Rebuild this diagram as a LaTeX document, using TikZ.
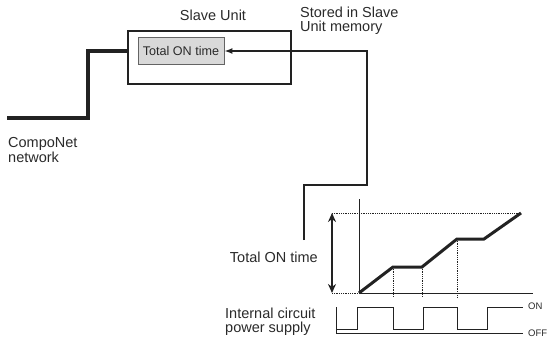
\documentclass[tikz,border=0pt]{standalone}
\usepackage{fontspec}
\setmainfont{Liberation Sans}
\usetikzlibrary{arrows.meta}
\definecolor{ink}{HTML}{222222}
\definecolor{txt}{HTML}{2A2A2A}
\definecolor{boxgray}{HTML}{D9D9D9}
\tikzset{
  lbl/.style={inner sep=0pt, text=txt, font=\fontsize{14.5}{14.5}\selectfont, align=left},
  small/.style={inner sep=0pt, text=txt, font=\fontsize{9.5}{9.5}\selectfont},
  unitbox/.style={draw=ink, line width=2pt, minimum width=163pt, minimum height=53pt, inner sep=0pt},
  membox/.style={draw=ink!70, line width=0.8pt, fill=boxgray, minimum width=86pt, minimum height=27pt, inner sep=0pt, text=txt, font=\fontsize{12.6}{12.6}\selectfont},
  netline/.style={draw=ink, line width=3.5pt},
  feedline/.style={draw=ink, line width=2pt},
  axisline/.style={draw=ink, line width=0.8pt},
  dotline/.style={draw=ink, line width=0.8pt, dash pattern=on 1pt off 0.8pt},
  curveline/.style={draw=ink, line width=3pt, line join=miter},
  pulseline/.style={draw=ink, line width=1pt},
}
\begin{document}
\begin{tikzpicture}[x=1pt,y=-1pt]
\useasboundingbox (0,0) rectangle (551,339);
% Slave unit
\node[unitbox] (su) at (209.5,57.5) {};
\node[membox] (tot) at (181,51) {Total ON time};
\node[lbl, anchor=base] (sulbl) at (213,21) {Slave Unit};
\node[lbl, anchor=north west] (store) at (300,6.5) {Stored in Slave\\Unit memory};
% network
\coordinate (n0) at (7,118);
\draw[netline] (n0) -- (88,118) -- (88,51) -- (su.west |- tot.east);
\node[lbl, anchor=north west] (net) at (8,137.5) {CompoNet\\network};
% feed arrow
\coordinate (feed) at (304,240);
\draw[feedline, -{Latex[length=8pt,width=6pt]}] (feed) -- (304,185) -| (367,51) -- (tot.east);
% chart
\draw[axisline] (359,199) -- (359,293) -- (533,293);
\draw[dotline] (332,213) -- (521,213);
\draw[dotline] (332,293) -- (359,293);
\draw[dotline] (393,267) -- (393,297);
\draw[dotline] (422,267) -- (422,297);
\draw[dotline] (457,239) -- (457,297);
\draw[curveline] (359,293) -- (393,267) -- (422,267) -- (457,239) -- (484,239) -- (521,213);
\coordinate (at) at (332,213);
\coordinate (ab) at (332,293);
\draw[draw=ink, line width=2.2pt, {Stealth[length=9pt,width=8pt]}-{Stealth[length=9pt,width=8pt]}] (at) -- (ab);
\node[lbl, anchor=base east] (totlbl) at (318,262) {Total ON time};
% pulse
\draw[pulseline] (336,307) -- (336,333) -- (523,333);
\draw[pulseline] (336,329.5) -- (357,329.5) -- (357,307) -- (393,307) -- (393,329.5) -- (423,329.5) -- (423,307) -- (457,307) -- (457,329.5) -- (487,329.5) -- (487,307) -- (523,307);
\node[small, anchor=west] (on) at (528,306) {ON};
\node[small, anchor=west] (off) at (528,333.5) {OFF};
\node[lbl, anchor=north west] (pwr) at (225,307.5) {Internal circuit\\power supply};
\end{tikzpicture}
\end{document}
